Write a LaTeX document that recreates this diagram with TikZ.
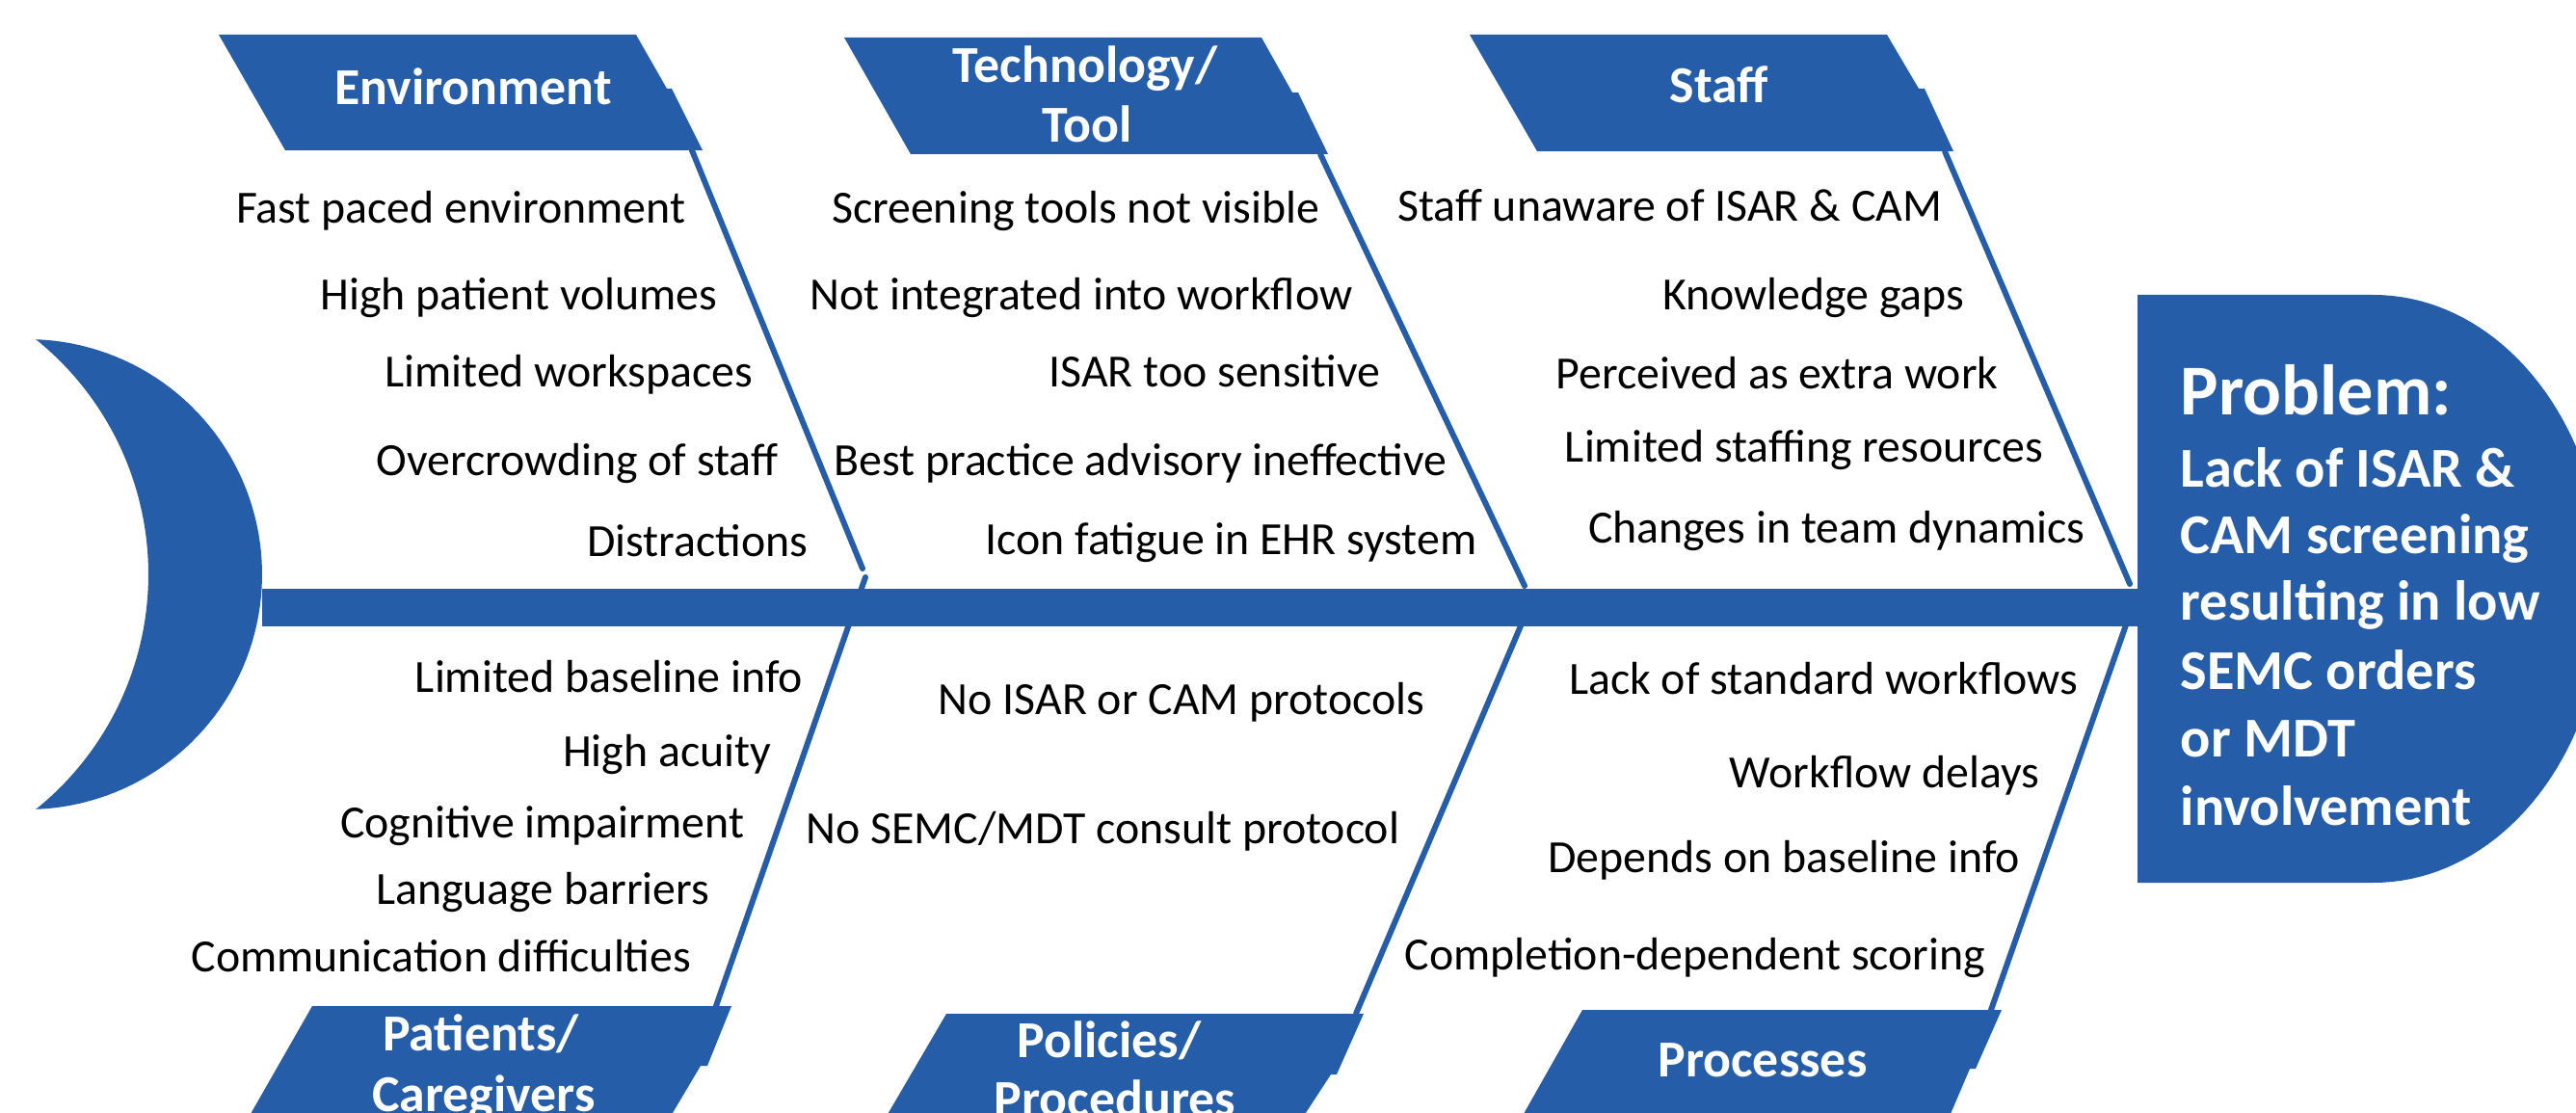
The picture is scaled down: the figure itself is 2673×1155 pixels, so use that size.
\documentclass[tikz,border=0pt]{standalone}
\usepackage{fontspec}
\setmainfont{Carlito}
\definecolor{fishblue}{RGB}{38,93,168}
\begin{document}
\begin{tikzpicture}[x=0.01cm,y=-0.01cm,
  cause/.style={anchor=base east, inner sep=0pt, font=\fontsize{13.6}{15}\selectfont},
  cat/.style={anchor=base, inner sep=0pt, text=white, font=\fontsize{15.3}{18}\selectfont\bfseries},
  prob/.style={anchor=base west, inner sep=0pt, text=white, font=\fontsize{16.6}{19}\selectfont\bfseries},
  probhead/.style={anchor=base west, inner sep=0pt, text=white, font=\fontsize{21.1}{24}\selectfont\bfseries},
  bone/.style={draw=fishblue, line width=1.7pt, line cap=round},
  catbox/.style={fill=fishblue}]
\useasboundingbox (0,0) rectangle (2673,1155);
\begin{scope}
\clip (0,0) rectangle (2673,1155);
% head (crescent)
\fill[fishblue] plot[domain=-87.9:87.9, samples=80] ({28+244*cos(\x)},{596+244*sin(\x)})
  -- plot[domain=51.2:-51.2, samples=80] ({-159+313*cos(\x)},{596+313*sin(\x)}) -- cycle;
% problem box
\fill[fishblue] (2218,306) -- (2463,306)
  -- plot[domain=-90:90, samples=80] ({2463+240*cos(\x)},{611+305*sin(\x)})
  -- (2218,916) -- cycle;
% bones
\coordinate (envA) at (718,156);   \coordinate (envB) at (895,590);
\coordinate (tecA) at (1370,160);  \coordinate (tecB) at (1582,608);
\coordinate (staA) at (2018,157);  \coordinate (staB) at (2210,606);
\coordinate (patA) at (898,599);   \coordinate (patB) at (743,1044);
\coordinate (polA) at (1582,640);  \coordinate (polB) at (1407,1052);
\coordinate (proA) at (2209,640);  \coordinate (proB) at (2066,1048);
\draw[bone] (envA) -- (envB);
\draw[bone] (tecA) -- (tecB);
\draw[bone] (staA) -- (staB);
\draw[bone] (patA) -- (patB);
\draw[bone] (polA) -- (polB);
\draw[bone] (proA) -- (proB);
% spine
\fill[fishblue] (272,611) rectangle (2222,650);
% category boxes
\fill[catbox] (227,36) -- (660,36) -- (692,92) -- (697,92) -- (729,156) -- (296,156) -- cycle;
\fill[catbox] (876,39) -- (1309,39) -- (1341,96) -- (1347,96) -- (1378,160) -- (945,160) -- cycle;
\fill[catbox] (1525,36) -- (1958,36) -- (1991,92) -- (1997,92) -- (2027,157) -- (1595,157) -- cycle;
\fill[catbox] (324,1044) -- (759,1044) -- (734,1106) -- (727,1106) -- (689,1170) -- (252,1170) -- cycle;
\fill[catbox] (982,1052) -- (1415,1052) -- (1387,1115) -- (1381,1115) -- (1345,1170) -- (913,1170) -- cycle;
\fill[catbox] (1642,1048) -- (2077,1048) -- (2050,1109) -- (2044,1109) -- (2018,1170) -- (1573,1170) -- cycle;
% category titles
\node[cat] (tEnv) at (491,109) {Environment};
\node[cat] (tTec1) at (1126,86) {Technology/};
\node[cat] (tTec2) at (1128,148) {Tool};
\node[cat] (tSta) at (1784,107) {Staff};
\node[cat] (tPat1) at (499,1090) {Patients/};
\node[cat] (tPat2) at (502,1153) {Caregivers};
\node[cat] (tPol1) at (1151,1097) {Policies/};
\node[cat] (tPol2) at (1157,1158) {Procedures};
\node[cat] (tPro) at (1829,1117) {Processes};
\end{scope}
% causes: environment
\node[cause] (e1) at (712,232) {Fast paced environment};
\node[cause] (e2) at (745,322) {High patient volumes};
\node[cause] (e3) at (782,402) {Limited workspaces};
\node[cause] (e4) at (808,494) {Overcrowding of staff};
\node[cause] (e5) at (839,577) {Distractions};
% technology
\node[cause] (t1) at (1370,232) {Screening tools not visible};
\node[cause] (t2) at (1404,322) {Not integrated into workflow};
\node[cause] (t3) at (1433,402) {ISAR too sensitive};
\node[cause] (t4) at (1502,494) {Best practice advisory ineffective};
\node[cause] (t5) at (1533,575) {Icon fatigue in EHR system};
% staff
\node[cause] (s1) at (2016,230) {Staff unaware of ISAR \& CAM};
\node[cause] (s2) at (2039,322) {Knowledge gaps};
\node[cause] (s3) at (2074,404) {Perceived as extra work};
\node[cause] (s4) at (2121,479) {Limited staffing resources};
\node[cause] (s5) at (2164,563) {Changes in team dynamics};
% patients
\node[cause] (p1) at (834,718) {Limited baseline info};
\node[cause] (p2) at (801,795) {High acuity};
\node[cause] (p3) at (773,869) {Cognitive impairment};
\node[cause] (p4) at (737,938) {Language barriers};
\node[cause] (p5) at (718,1008) {Communication difficulties};
% policies
\node[cause] (o1) at (1479,741) {No ISAR or CAM protocols};
\node[cause] (o2) at (1453,875) {No SEMC/MDT consult protocol};
% processes
\node[cause] (r1) at (2157,720) {Lack of standard workflows};
\node[cause] (r2) at (2117,817) {Workflow delays};
\node[cause] (r3) at (2097,905) {Depends on baseline info};
\node[cause] (r4) at (2061,1006) {Completion-dependent scoring};
% problem text
\node[probhead] (q0) at (2262,430) {Problem:};
\node[prob] (q1) at (2262,505) {Lack of ISAR \&};
\node[prob] (q2) at (2262,574) {CAM screening};
\node[prob] (q3) at (2262,643) {resulting in low};
\node[prob] (q4) at (2262,715) {SEMC orders};
\node[prob] (q5) at (2262,785) {or MDT};
\node[prob] (q6) at (2262,856) {involvement};
\end{tikzpicture}
\end{document}
